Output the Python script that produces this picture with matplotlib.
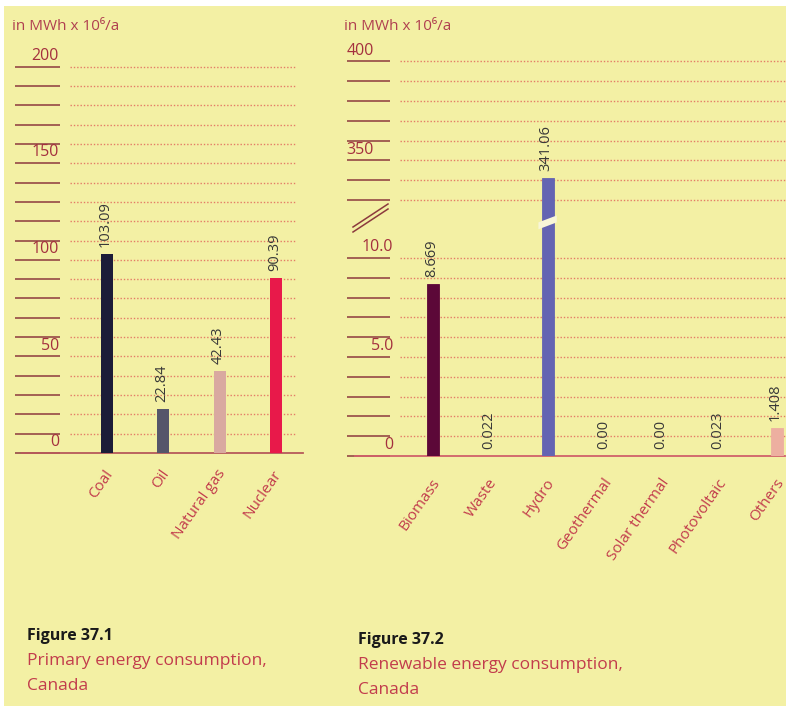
import numpy as np
import matplotlib
matplotlib.use("Agg")
import matplotlib.pyplot as plt
from matplotlib.transforms import Affine2D, blended_transform_factory, ScaledTranslation
from matplotlib.patches import Rectangle, Polygon

plt.rcParams['font.family'] = ['Open Sans', 'DejaVu Sans']

# ---- data -------------------------------------------------------------
primary_cats = ["Coal", "Oil", "Natural gas", "Nuclear"]
primary_vals = [103.09, 22.84, 42.43, 90.39]
primary_labels = ["103.09", "22.84", "42.43", "90.39"]
primary_colors = ["#1c1c38", "#55566a", "#d9a9a0", "#e8194a"]

renew_cats = ["Biomass", "Waste", "Hydro", "Geothermal", "Solar thermal",
              "Photovoltaic", "Others"]
renew_vals = [8.669, 0.022, 341.06, 0.00, 0.00, 0.023, 1.408]
renew_labels = ["8.669", "0.022", "341.06", "0.00", "0.00", "0.023", "1.408"]
renew_colors = ["#5c0838", "#4a3a3a", "#6464b2", "#c8b060", "#c8b060",
                "#c8b060", "#edafa0"]

primary_ticks = [0, 50, 100, 150, 200]
renew_ticks_low = [0, 5, 10]
renew_ticks_high = [350, 400]
renew_tick_text_low = ["0", "5.0", "10.0"]
renew_tick_text_high = ["350", "400"]

unit_text = "in MWh x 10\u2076/a"

# ---- styling ----------------------------------------------------------
BG = "#f3f0a4"
RED_TXT = "#c23c4c"
TICK_TXT = "#a4303e"
TICK_LINE = "#8c3a3e"
GRID = "#e27060"
VAL_TXT = "#383838"

W, H = 788, 711
fig = plt.figure(figsize=(W / 100, H / 100), dpi=100, facecolor="white")
px = Affine2D().scale(1 / W, -1 / H).translate(0, 1) + fig.transFigure

# paper
fig.patches.append(Rectangle((4, 6), 782, 700, transform=px,
                             facecolor=BG, edgecolor="none", zorder=-10))


def to_fig(x0, y_top, x1, y_bot):
    return [x0 / W, 1 - y_bot / H, (x1 - x0) / W, (y_bot - y_top) / H]


# ---- left panel: primary energy --------------------------------------
ax1 = fig.add_axes(to_fig(15, 66.7, 303, 453))
ax1.set_axis_off()
ax1.set_xlim(-1.634, 3.48)
ax1.set_ylim(0, 200)
bl1 = blended_transform_factory(px, ax1.transData)

for y in np.arange(0, 201, 10):
    ax1.plot([15, 60], [y, y], transform=bl1, color=TICK_LINE, lw=1.1,
             clip_on=False, solid_capstyle="butt")
    if y > 0:
        ax1.plot([70, 295], [y, y], transform=bl1, color=GRID, lw=1.0,
                 ls=(0, (1, 1.4)), clip_on=False, alpha=0.9)
ax1.plot([22, 303], [0, 0], transform=bl1, color="#b65a5a", lw=1.3,
         clip_on=False)

up = ScaledTranslation(0, 2 / 72, fig.dpi_scale_trans)
for t in primary_ticks:
    ax1.text(59, t, str(t), transform=bl1 + up,
             ha="right", va="bottom", fontsize=11.5, color=TICK_TXT)

x1 = np.arange(len(primary_cats))
ax1.bar(x1, primary_vals, width=0.21, color=primary_colors, zorder=3)
for xi, v, lab in zip(x1, primary_vals, primary_labels):
    ax1.annotate(lab, (xi, v), xytext=(-1, 5), textcoords="offset points",
                 rotation=90, ha="center", va="bottom", fontsize=10.5,
                 color=VAL_TXT)
for xi, cat in zip(x1, primary_cats):
    ax1.annotate(cat, (xi, 0), xytext=(2, -13), textcoords="offset points",
                 rotation=55, ha="right", va="center", rotation_mode="anchor",
                 fontsize=11, color=RED_TXT)

fig.text(12 / W, 1 - 27 / H, unit_text, ha="left", va="center",
         fontsize=11, color="#b04050")


# ---- right panel: renewable energy (broken axis) ----------------------
def fwd(v):
    v = np.asarray(v, dtype=float)
    return np.where(v <= 10, v,
                    np.where(v < 330, 10 + (v - 10) * (2.93 / 320),
                             12.93 + (v - 330) / 10))


def inv(s):
    s = np.asarray(s, dtype=float)
    return np.where(s <= 10, s,
                    np.where(s < 12.93, 10 + (s - 10) * (320 / 2.93),
                             330 + (s - 12.93) * 10))


ax2 = fig.add_axes(to_fig(350, 61.4, 786, 456))
ax2.set_axis_off()
ax2.set_yscale("function", functions=(fwd, inv))
ax2.set_xlim(-1.449, 6.161)
ax2.set_ylim(0, 400)
bl2 = blended_transform_factory(px, ax2.transData)

grid_levels = list(np.arange(0, 11, 1)) + list(np.arange(330, 401, 10))
for y in grid_levels:
    ax2.plot([347, 390], [y, y], transform=bl2, color=TICK_LINE, lw=1.1,
             clip_on=False, solid_capstyle="butt")
    if y > 0:
        ax2.plot([400, 785], [y, y], transform=bl2, color=GRID, lw=1.0,
                 ls=(0, (1, 1.4)), clip_on=False, alpha=0.9)
ax2.plot([355, 785], [0, 0], transform=bl2, color="#d0606a", lw=1.3,
         clip_on=False)

for t, s in zip(renew_ticks_low, renew_tick_text_low):
    ax2.text(393, t, s, transform=bl2 + up, ha="right", va="bottom",
             fontsize=11.5, color=TICK_TXT)
for t, s in zip(renew_ticks_high, renew_tick_text_high):
    ax2.text(374, t, s, transform=bl2 + up, ha="right", va="bottom",
             fontsize=11.5, color=TICK_TXT)

# axis break mark
for off in (0, -5):
    fig.add_artist(plt.Line2D([353, 388], [232 + off, 209 + off], transform=px,
                              color=TICK_LINE, lw=1.1))

x2 = np.arange(len(renew_cats))
ax2.bar(x2, renew_vals, width=0.21, color=renew_colors, zorder=3,
        edgecolor=renew_colors, linewidth=0.6)

# diagonal cut through the hydro bar at the axis break
hx = x2[renew_cats.index("Hydro")]
hw = 0.16
cut = [(hx - hw, 11.45), (hx + hw, 11.8), (hx + hw, 12.15), (hx - hw, 11.8)]
ax2.add_patch(Polygon([(cx, float(inv(cy))) for cx, cy in cut],
                      closed=True, facecolor="#f8f6d8", edgecolor="none",
                      zorder=4))

for xi, v, lab in zip(x2, renew_vals, renew_labels):
    ax2.annotate(lab, (xi, v), xytext=(-1, 5), textcoords="offset points",
                 rotation=90, ha="center", va="bottom", fontsize=10.5,
                 color=VAL_TXT)
for xi, cat in zip(x2, renew_cats):
    ax2.annotate(cat, (xi, 0), xytext=(3, -17), textcoords="offset points",
                 rotation=55, ha="right", va="center", rotation_mode="anchor",
                 fontsize=11, color=RED_TXT)

fig.text(344 / W, 1 - 27 / H, unit_text, ha="left", va="center",
         fontsize=11, color="#b04050")

# ---- captions ---------------------------------------------------------
fig.text(27 / W, 1 - 636 / H, "Figure 37.1", ha="left", va="center",
         fontsize=11.5, fontweight="bold", color="#1a1a1a")
fig.text(27 / W, 1 - 661 / H, "Primary energy consumption,", ha="left",
         va="center", fontsize=12.5, color=RED_TXT)
fig.text(27 / W, 1 - 686 / H, "Canada", ha="left", va="center",
         fontsize=12.5, color=RED_TXT)
fig.text(358 / W, 1 - 640 / H, "Figure 37.2", ha="left", va="center",
         fontsize=11.5, fontweight="bold", color="#1a1a1a")
fig.text(358 / W, 1 - 665 / H, "Renewable energy consumption,", ha="left",
         va="center", fontsize=12.5, color=RED_TXT)
fig.text(358 / W, 1 - 690 / H, "Canada", ha="left", va="center",
         fontsize=12.5, color=RED_TXT)

fig.savefig("out.png", dpi=100, facecolor="white")
